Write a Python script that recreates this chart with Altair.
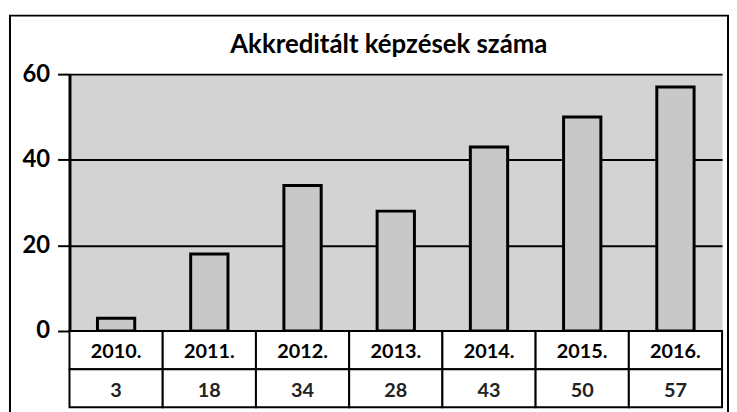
import altair as alt
import pandas as pd

# ---- data ----
years = ["2010.", "2011.", "2012.", "2013.", "2014.", "2015.", "2016."]
counts = [3, 18, 34, 28, 43, 50, 57]
y_ticks = [0, 20, 40, 60]
chart_title = "Akkreditált képzések száma"
row_names = ["Év", "Darab"]

bars_df = pd.DataFrame({"year": years, "count": counts})
year_cells = pd.DataFrame({"year": years, "row": row_names[0], "label": years})
value_cells = pd.DataFrame({"year": years, "row": row_names[1], "label": [str(c) for c in counts]})
cells_df = pd.concat([year_cells, value_cells], ignore_index=True)

# ---- layout ----
W = 658
PLOT_H = 259
TABLE_H = 77
H = PLOT_H + TABLE_H
FONT = "Lato"

x_enc = alt.X("year:N", sort=years, title=None, axis=None,
              scale=alt.Scale(paddingInner=0, paddingOuter=0))

row_scale = alt.Scale(domain=row_names, range=[PLOT_H, H], paddingInner=0, paddingOuter=0)
y_row = alt.Y("row:N", sort=row_names, axis=None, scale=row_scale)

frame = alt.Chart(pd.DataFrame({"f": [0]})).mark_rect(
    filled=False, stroke="black", strokeWidth=2
).encode(
    x=alt.value(-60), x2=alt.value(664), y=alt.value(-59), y2=alt.value(H + 30)
)

title_text = alt.Chart(pd.DataFrame({"t": [chart_title]})).mark_text(
    font=FONT, fontSize=26, fontWeight="bold", color="black", align="center",
    baseline="middle"
).encode(x=alt.value(W / 2 - 7), y=alt.value(-29), text="t:N")

bars = alt.Chart(bars_df).mark_bar(
    width=alt.RelativeBandSize(0.4), fill="#c8c8c8", stroke="black", strokeWidth=3
).encode(
    x=x_enc,
    y=alt.Y("count:Q", title=None,
            scale=alt.Scale(domain=[0, 60], range=[PLOT_H, 0]),
            axis=alt.Axis(orient="left", values=y_ticks, grid=True, gridColor="black",
                          gridWidth=2, domainColor="black", domainWidth=3,
                          tickColor="black", tickWidth=2, tickSize=12,
                          labelFont=FONT, labelFontSize=24, labelFontWeight="bold",
                          labelColor="black", labelPadding=8)),
)

cells = alt.Chart(cells_df).mark_rect(
    fill="white", stroke="black", strokeWidth=2
).encode(x=x_enc, y=y_row)

year_text = alt.Chart(year_cells).mark_text(
    font=FONT, fontSize=20, fontWeight="bold", color="black", dy=2
).encode(x=x_enc, y=y_row, text="label:N")

value_text = alt.Chart(value_cells).mark_text(
    font=FONT, fontSize=20, fontWeight="bold", color="#222222", dy=3
).encode(x=x_enc, y=y_row, text="label:N")

chart = alt.layer(frame, bars, cells, year_text, value_text, title_text).resolve_scale(
    y="independent"
).properties(
    width=W,
    height=H,
    autosize=alt.AutoSizeParams(type="none"),
    padding={"left": 62, "top": 65, "right": 7, "bottom": 3},
    background="white",
).configure_view(
    fill="#d3d3d3", stroke="transparent"
)

chart.save("out.html", embed_options={"renderer": "svg", "actions": False})
